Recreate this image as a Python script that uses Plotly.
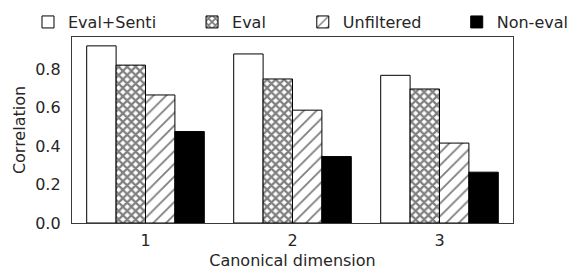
import plotly.graph_objects as go

# ---- data ----
dims = [1, 2, 3]
dim_labels = ["1", "2", "3"]
series_names = ["Eval+Senti", "Eval", "Unfiltered", "Non-eval"]
eval_senti = [0.92, 0.878, 0.767]
eval_only = [0.82, 0.748, 0.696]
unfiltered = [0.665, 0.586, 0.415]
non_eval = [0.475, 0.345, 0.264]
y_ticks = [0.0, 0.2, 0.4, 0.6, 0.8]
y_tick_labels = ["0.0", "0.2", "0.4", "0.6", "0.8"]

FONT = "DejaVu Sans"
TEXT = "#262626"
FRAME = "#3a3a3a"

styles = [
    dict(color="white", pattern=dict(shape="")),
    dict(color="white", pattern=dict(shape="x", fgcolor="black", bgcolor="white",
                                      size=6, solidity=0.6, fillmode="overlay")),
    dict(color="white", pattern=dict(shape="/", fgcolor="black", bgcolor="white",
                                      size=9, solidity=0.2, fillmode="overlay")),
    dict(color="black", pattern=dict(shape="")),
]
values = [eval_senti, eval_only, unfiltered, non_eval]
legend_ids = ["legend", "legend2", "legend3", "legend4"]
legend_x = [0.0352, 0.324, 0.519, 0.790]

fig = go.Figure()
for name, vals, st, lg in zip(series_names, values, styles, legend_ids):
    fig.add_trace(go.Bar(
        x=dims, y=vals, name=name, legend=lg,
        marker=dict(color=st["color"], pattern=st["pattern"],
                    line=dict(color="black", width=1)),
    ))

legend_common = dict(orientation="h", xanchor="left", xref="container",
                     y=0.947, yref="container", yanchor="middle",
                     font=dict(family=FONT, size=16, color=TEXT),
                     itemwidth=30, bgcolor="rgba(0,0,0,0)")

# the page body adds an 8 px offset, so the figure is 8 px smaller
fig.update_layout(
    width=568, height=265,
    margin=dict(l=64, r=63, t=29, b=50, autoexpand=False),
    paper_bgcolor="white", plot_bgcolor="white",
    barmode="group", bargap=0.2, bargroupgap=0,
    font=dict(family=FONT, size=16, color=TEXT),
    showlegend=True,
    xaxis=dict(range=[0.5, 3.5], tickvals=dims, ticktext=dim_labels, automargin=False,
               showline=True, mirror=True, linecolor=FRAME, linewidth=1.3,
               ticks="", showgrid=False, zeroline=False, ticklabelstandoff=3,
               title=dict(text="Canonical dimension", standoff=5,
                          font=dict(family=FONT, size=16, color=TEXT))),
    yaxis=dict(range=[0, 0.966], tickvals=y_ticks, ticktext=y_tick_labels, automargin=False,
               showline=True, mirror=True, linecolor=FRAME, linewidth=1.3,
               ticks="", showgrid=False, zeroline=False, ticklabelstandoff=7,
               title=dict(text="Correlation", standoff=5,
                          font=dict(family=FONT, size=16, color=TEXT))),
)
for lg, lx in zip(legend_ids, legend_x):
    fig.update_layout({lg: dict(legend_common, x=lx)})

fig.write_html("out.html")
